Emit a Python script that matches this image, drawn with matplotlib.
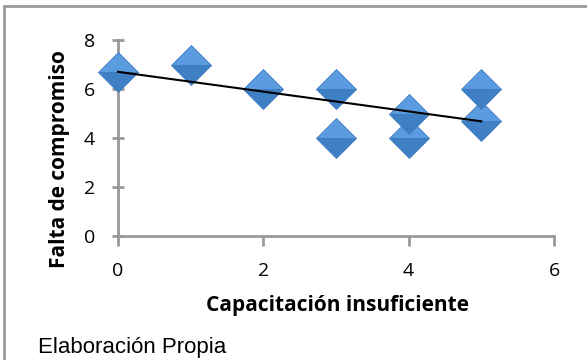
import numpy as np
import matplotlib.pyplot as plt
from matplotlib.patches import Rectangle

# datos
capacitacion = [0, 1, 2, 3, 3, 4, 4, 5, 5]
compromiso = [6.7, 7, 6, 6, 4, 5, 4, 6, 4.7]
xticks = [0, 2, 4, 6]
yticks = [0, 2, 4, 6, 8]

fig = plt.figure(figsize=(5.87, 3.6), dpi=100)
ax = fig.add_axes([118 / 587, 1 - 236 / 360, (554 - 118) / 587, (236 - 40) / 360])

# marco exterior (solo se ven borde izquierdo y superior)
fig.patches.append(Rectangle((4 / 587, -0.1), 1.2, 1 - 6 / 360 + 0.1,
                             transform=fig.transFigure, fill=False,
                             edgecolor="#999999", linewidth=2))

# puntos (mitad superior más clara, como el relieve de Excel)
ax.plot(capacitacion, compromiso, linestyle="none", marker="D", markersize=20,
        fillstyle="top", markerfacecolor="#5b9be0", markerfacecoloralt="#3f7fc4",
        markeredgecolor="#3f7cc0", markeredgewidth=0.6, zorder=3, clip_on=False)

# línea de tendencia lineal
m, b = np.polyfit(capacitacion, compromiso, 1)
xs = np.array([min(capacitacion), max(capacitacion)])
ax.plot(xs, m * xs + b, color="black", linewidth=1.5, zorder=4, clip_on=False)

ax.set_xlim(0, 6)
ax.set_ylim(0, 8)
ax.set_xticks(xticks)
ax.set_yticks(yticks)

for side in ["top", "right"]:
    ax.spines[side].set_visible(False)
for side in ["left", "bottom"]:
    ax.spines[side].set_color("#999999")
    ax.spines[side].set_linewidth(2)
ax.tick_params(colors="#999999", width=2, labelcolor="black", labelsize=14)
ax.tick_params(axis="x", direction="out", length=7, pad=12)
ax.tick_params(axis="y", direction="inout", length=9, pad=12)
for lab in ax.get_xticklabels() + ax.get_yticklabels():
    lab.set_family("Open Sans")

ax.set_xlabel("Capacitación insuficiente", fontsize=15, fontweight="bold",
              family="Open Sans", va="center")
ax.xaxis.set_label_coords((337 - 118) / (554 - 118), -(305 - 236) / (236 - 40))
ax.set_ylabel("Falta de compromiso", fontsize=15, fontweight="bold",
              family="Open Sans", va="center")
ax.yaxis.set_label_coords(-(118 - 60) / (554 - 118), (236 - 159) / (236 - 40))

fig.text(38 / 587, 1 - 348 / 360, "Elaboración Propia", fontsize=16,
         family="Liberation Sans", va="center")

fig.savefig("out.png", dpi=100)
